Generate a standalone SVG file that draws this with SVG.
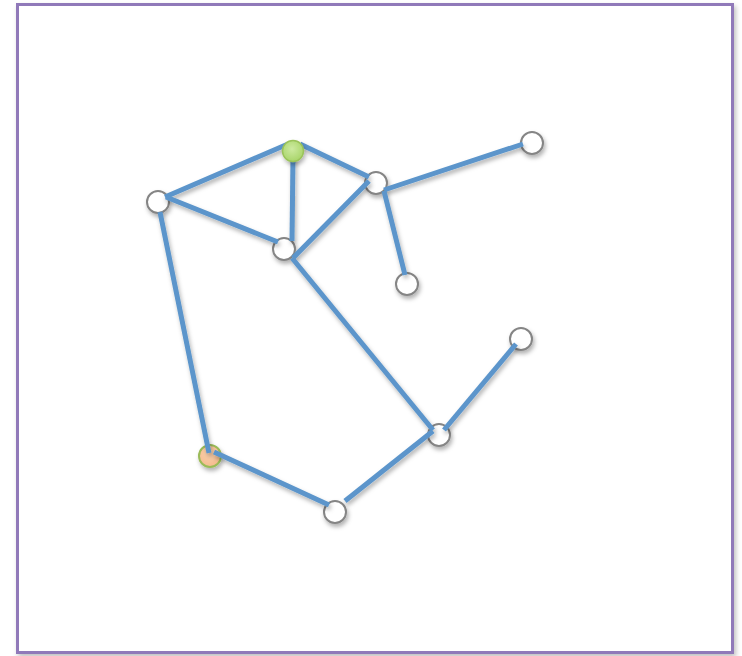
<svg xmlns="http://www.w3.org/2000/svg" width="742" height="656" viewBox="0 0 742 656">
<defs>
<filter id="sh" x="-50%" y="-50%" width="200%" height="200%">
<feDropShadow dx="1.5" dy="3" stdDeviation="2.2" flood-color="#000" flood-opacity="0.3"/>
</filter>
<filter id="bsh" x="-5%" y="-5%" width="110%" height="110%">
<feDropShadow dx="2" dy="3" stdDeviation="2.5" flood-color="#000" flood-opacity="0.25"/>
</filter>
<radialGradient id="gg" cx="0.45" cy="0.4" r="0.6">
<stop offset="0" stop-color="#cdeaa0"/>
<stop offset="1" stop-color="#a9d56a"/>
</radialGradient>
<radialGradient id="og" cx="0.45" cy="0.4" r="0.6">
<stop offset="0" stop-color="#fbd1ad"/>
<stop offset="1" stop-color="#f5bb8e"/>
</radialGradient>
</defs>
<style>
.n{fill:#fff;stroke:#858585;stroke-width:2}
.e{stroke:#5b95cb;stroke-width:5;fill:none;stroke-linecap:butt}
</style>
<rect x="17.5" y="4.5" width="715" height="648" fill="#fff" stroke="#9079b9" stroke-width="3" filter="url(#bsh)"/>
<g id="nodes" filter="url(#sh)">
<g id="nA"><circle class="n" cx="158" cy="202" r="11"/></g>
<g id="nB"><circle class="n" cx="376" cy="183" r="11"/></g>
<g id="nC"><circle class="n" cx="532" cy="143" r="11"/></g>
<g id="nD"><circle class="n" cx="284" cy="249" r="11"/></g>
<g id="nE"><circle class="n" cx="407" cy="284" r="11"/></g>
<g id="nF"><circle class="n" cx="521" cy="339" r="11"/></g>
<g id="nH"><circle class="n" cx="439" cy="435" r="11"/></g>
<g id="nO"><circle cx="210" cy="456" r="11" fill="url(#og)" stroke="#9bbb59" stroke-width="2"/></g>
<g id="nI"><circle class="n" cx="335" cy="512" r="11"/></g>
</g>
<g id="connectors" filter="url(#sh)">
<line class="e" x1="165" y1="197" x2="288" y2="144"/>
<line class="e" x1="300" y1="144" x2="369" y2="177"/>
<line class="e" x1="293" y1="156" x2="292" y2="241"/>
<line class="e" x1="166" y1="197" x2="278" y2="242"/>
<line class="e" x1="293" y1="258" x2="369" y2="181"/>
<line class="e" x1="384" y1="190" x2="523" y2="144"/>
<line class="e" x1="384" y1="191" x2="405" y2="275"/>
<line class="e" x1="160" y1="212" x2="209" y2="453"/>
<line class="e" x1="292" y1="258" x2="433" y2="430"/>
<line class="e" x1="444" y1="430" x2="516" y2="344"/>
<line class="e" x1="433" y1="431" x2="345" y2="501"/>
<line class="e" x1="214" y1="452" x2="329" y2="505"/>
</g>
<g id="nG" filter="url(#sh)"><circle cx="293" cy="151" r="10.5" fill="url(#gg)" stroke="#9bc35a" stroke-width="1.5"/></g>
</svg>
